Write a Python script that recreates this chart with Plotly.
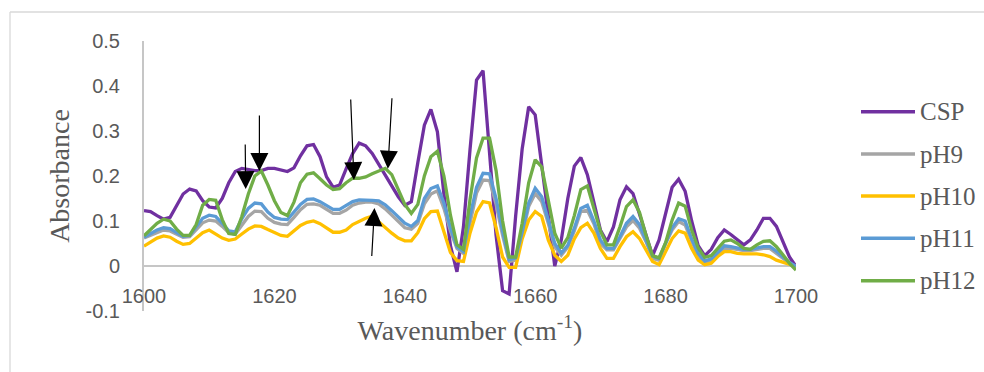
import plotly.graph_objects as go

# Wavenumber grid (cm-1)
wavenumber = list(range(1600, 1701))

csp = [0.123, 0.121, 0.112, 0.104, 0.108, 0.135, 0.160, 0.171, 0.167, 0.145,
       0.131, 0.129, 0.150, 0.185, 0.210, 0.217, 0.215, 0.212, 0.212, 0.217,
       0.217, 0.213, 0.210, 0.218, 0.245, 0.267, 0.270, 0.243, 0.198, 0.175,
       0.180, 0.216, 0.250, 0.273, 0.267, 0.250, 0.226, 0.200, 0.177, 0.154,
       0.135, 0.143, 0.230, 0.313, 0.348, 0.298, 0.160, 0.045, -0.013, 0.087,
       0.258, 0.413, 0.434, 0.250, 0.068, -0.055, -0.062, 0.111, 0.260, 0.354,
       0.336, 0.224, 0.113, 0.000, 0.058, 0.150, 0.222, 0.241, 0.203, 0.140,
       0.080, 0.054, 0.087, 0.147, 0.176, 0.161, 0.113, 0.065, 0.023, 0.058,
       0.120, 0.175, 0.193, 0.166, 0.100, 0.045, 0.023, 0.037, 0.063, 0.080,
       0.070, 0.058, 0.047, 0.058, 0.080, 0.106, 0.106, 0.088, 0.055, 0.020,
       -0.001]

ph9 = [0.062, 0.068, 0.075, 0.080, 0.078, 0.070, 0.064, 0.065, 0.080, 0.096,
       0.102, 0.100, 0.088, 0.074, 0.071, 0.090, 0.110, 0.122, 0.121, 0.106,
       0.097, 0.093, 0.092, 0.108, 0.125, 0.137, 0.138, 0.135, 0.125, 0.117,
       0.117, 0.124, 0.135, 0.140, 0.142, 0.142, 0.138, 0.127, 0.113, 0.099,
       0.085, 0.082, 0.095, 0.138, 0.160, 0.167, 0.128, 0.078, 0.039, 0.028,
       0.099, 0.162, 0.191, 0.190, 0.137, 0.068, 0.010, 0.013, 0.068, 0.132,
       0.161, 0.143, 0.095, 0.043, 0.024, 0.042, 0.078, 0.121, 0.124, 0.094,
       0.050, 0.036, 0.036, 0.062, 0.087, 0.101, 0.084, 0.054, 0.017, 0.013,
       0.050, 0.080, 0.099, 0.091, 0.054, 0.021, 0.006, 0.013, 0.028, 0.039,
       0.039, 0.036, 0.034, 0.034, 0.037, 0.039, 0.039, 0.028, 0.017, 0.006,
       -0.001]

ph10 = [0.044, 0.054, 0.062, 0.067, 0.064, 0.055, 0.048, 0.050, 0.062, 0.074,
        0.080, 0.070, 0.062, 0.057, 0.060, 0.071, 0.082, 0.089, 0.088, 0.081,
        0.074, 0.068, 0.066, 0.078, 0.090, 0.097, 0.100, 0.094, 0.084, 0.075,
        0.075, 0.080, 0.092, 0.100, 0.106, 0.111, 0.098, 0.086, 0.073, 0.062,
        0.056, 0.056, 0.074, 0.105, 0.121, 0.122, 0.075, 0.030, 0.012, 0.010,
        0.073, 0.120, 0.143, 0.140, 0.085, 0.020, -0.003, -0.003, 0.060, 0.102,
        0.121, 0.110, 0.058, 0.024, 0.010, 0.024, 0.060, 0.085, 0.095, 0.073,
        0.039, 0.017, 0.017, 0.043, 0.065, 0.076, 0.061, 0.036, 0.010, 0.003,
        0.032, 0.061, 0.078, 0.073, 0.039, 0.013, 0.003, 0.006, 0.021, 0.032,
        0.032, 0.028, 0.027, 0.027, 0.027, 0.025, 0.021, 0.013, 0.008, 0.004,
        -0.001]

ph11 = [0.064, 0.072, 0.080, 0.085, 0.083, 0.074, 0.066, 0.068, 0.088, 0.106,
        0.113, 0.110, 0.095, 0.078, 0.076, 0.105, 0.128, 0.140, 0.138, 0.120,
        0.108, 0.104, 0.103, 0.120, 0.137, 0.148, 0.149, 0.143, 0.134, 0.126,
        0.126, 0.134, 0.143, 0.147, 0.147, 0.146, 0.145, 0.136, 0.123, 0.108,
        0.095, 0.088, 0.101, 0.150, 0.172, 0.178, 0.140, 0.085, 0.043, 0.032,
        0.110, 0.175, 0.206, 0.205, 0.150, 0.078, 0.014, 0.018, 0.075, 0.140,
        0.173, 0.154, 0.102, 0.050, 0.029, 0.046, 0.084, 0.128, 0.135, 0.100,
        0.058, 0.039, 0.039, 0.065, 0.095, 0.110, 0.092, 0.058, 0.022, 0.017,
        0.050, 0.085, 0.105, 0.100, 0.060, 0.028, 0.011, 0.016, 0.030, 0.045,
        0.043, 0.040, 0.037, 0.037, 0.040, 0.043, 0.043, 0.033, 0.020, 0.008,
        -0.001]

ph12 = [0.067, 0.080, 0.095, 0.104, 0.100, 0.082, 0.068, 0.068, 0.092, 0.135,
        0.148, 0.146, 0.103, 0.072, 0.070, 0.110, 0.160, 0.200, 0.211, 0.180,
        0.145, 0.119, 0.112, 0.142, 0.185, 0.204, 0.207, 0.194, 0.180, 0.170,
        0.172, 0.185, 0.195, 0.195, 0.198, 0.205, 0.212, 0.217, 0.203, 0.172,
        0.137, 0.117, 0.137, 0.200, 0.243, 0.255, 0.200, 0.113, 0.047, 0.037,
        0.147, 0.240, 0.284, 0.284, 0.212, 0.100, 0.020, 0.020, 0.095, 0.185,
        0.236, 0.220, 0.147, 0.073, 0.040, 0.063, 0.112, 0.170, 0.178, 0.128,
        0.078, 0.047, 0.047, 0.087, 0.132, 0.147, 0.119, 0.068, 0.023, 0.018,
        0.052, 0.102, 0.140, 0.133, 0.080, 0.040, 0.019, 0.023, 0.040, 0.055,
        0.058, 0.050, 0.039, 0.037, 0.047, 0.055, 0.056, 0.043, 0.025, 0.006,
        -0.009]

series_names = ["CSP", "pH9", "pH10", "pH11", "pH12"]
series_values = [csp, ph9, ph10, ph11, ph12]
series_colors = ["#7030A0", "#A5A5A5", "#FFC000", "#5B9BD5", "#70AD47"]

x_ticks = [1600, 1620, 1640, 1660, 1680, 1700]
y_ticks = [-0.1, 0, 0.1, 0.2, 0.3, 0.4, 0.5]
y_tick_text = ["-0.1", "0", "0.1", "0.2", "0.3", "0.4", "0.5"]

# Arrow tips (wavenumber, absorbance) and tail offsets in pixels
arrow_tips = [(1615.6, 0.171), (1617.7, 0.211), (1632.2, 0.191),
              (1637.4, 0.216), (1635.35, 0.129)]
arrow_tails = [(-0.5, -46), (0, -57), (-3.3, -82), (4.2, -72), (-2.8, 49.5)]

# Page geometry (px)
W, H = 984, 372
PLOT_L, PLOT_R, PLOT_T, PLOT_B = 144, 796, 41, 311

TEXT_GREY = "#595959"
AXIS_GREY = "#c6c6c6"


def px_to_paper(px, py):
    return ((px - PLOT_L) / (PLOT_R - PLOT_L), (PLOT_B - py) / (PLOT_B - PLOT_T))


fig = go.Figure()
for name, vals, col in zip(series_names, series_values, series_colors):
    fig.add_trace(go.Scatter(x=wavenumber, y=vals, mode="lines", name=name,
                             line=dict(color=col, width=3.3), showlegend=False))

# Arrows marking the band positions
for (tx, ty), (dx, dy) in zip(arrow_tips, arrow_tails):
    fig.add_annotation(x=tx, y=ty, xref="x", yref="y", ax=dx, ay=dy,
                       axref="pixel", ayref="pixel", text="", showarrow=True,
                       arrowhead=2, arrowsize=3.0, arrowwidth=1.2,
                       arrowcolor="black", standoff=0)

# Legend drawn to the right of the plot
legend_rows = [111.7, 154.0, 196.0, 238.3, 280.7]
for name, col, row in zip(series_names, series_colors, legend_rows):
    x0, y0 = px_to_paper(861, row)
    x1, _ = px_to_paper(915, row)
    fig.add_shape(type="line", xref="paper", yref="paper", x0=x0, x1=x1,
                  y0=y0, y1=y0, line=dict(color=col, width=3.5))
    tx, _ = px_to_paper(918, row)
    fig.add_annotation(x=tx, y=y0, xref="paper", yref="paper", text=name,
                       showarrow=False, xanchor="left", yanchor="middle",
                       font=dict(family="Liberation Serif", size=25,
                                 color=TEXT_GREY))

# Chart frame
fx0, fy0 = px_to_paper(10, 12)
fx1, fy1 = px_to_paper(W + 5, H + 5)
fig.add_shape(type="line", xref="paper", yref="paper", x0=fx0, x1=fx1,
              y0=fy0, y1=fy0, line=dict(color="#d9d9d9", width=1.3))
fig.add_shape(type="line", xref="paper", yref="paper", x0=fx0, x1=fx0,
              y0=fy0, y1=fy1, line=dict(color="#d9d9d9", width=1.3))

fig.update_layout(
    width=W, height=H, autosize=False,
    margin=dict(l=PLOT_L, r=W - PLOT_R, t=PLOT_T, b=H - PLOT_B, pad=0),
    paper_bgcolor="white", plot_bgcolor="white",
    showlegend=False,
    xaxis=dict(range=[1600, 1700], tickvals=x_ticks, showgrid=False,
               zeroline=False, showline=False, ticks="",
               ticklabelstandoff=-29,
               tickfont=dict(family="Liberation Sans", size=20, color=TEXT_GREY),
               title=dict(text="Wavenumber (cm<sup>-1</sup>)", standoff=14,
                          font=dict(family="Liberation Serif", size=28,
                                    color=TEXT_GREY))),
    yaxis=dict(range=[-0.1, 0.5], tickvals=y_ticks, ticktext=y_tick_text,
               showgrid=False, zeroline=True, zerolinecolor=AXIS_GREY,
               zerolinewidth=2, showline=True, linecolor=AXIS_GREY,
               linewidth=2, ticks="", ticklabelstandoff=18,
               tickfont=dict(family="Liberation Sans", size=20, color=TEXT_GREY),
               title=dict(text="Absorbance", standoff=8,
                          font=dict(family="Liberation Serif", size=28,
                                    color=TEXT_GREY))),
)

fig.write_html("out.html")
